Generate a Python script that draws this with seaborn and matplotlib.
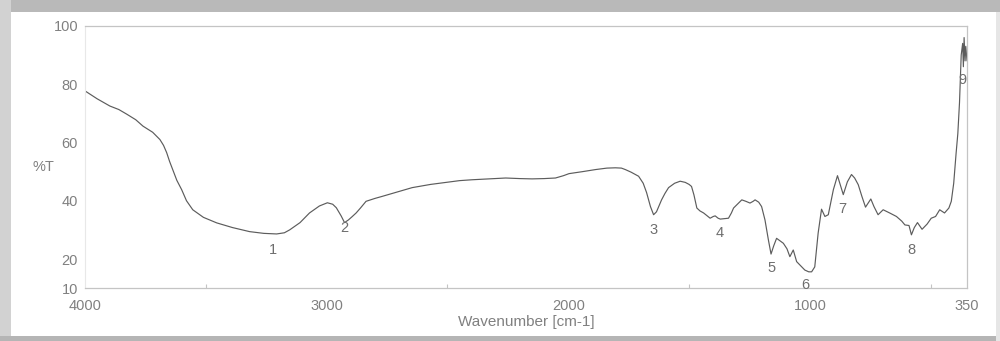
import matplotlib
matplotlib.use("Agg")
import matplotlib.pyplot as plt
from matplotlib.patches import Rectangle
import pandas as pd
import seaborn as sns

# FTIR transmission spectrum
wavenumber = [
    4000, 3950, 3897, 3860, 3827, 3790, 3760, 3720, 3690, 3675, 3662, 3650,
    3637, 3620, 3600, 3580, 3554, 3510, 3455, 3390, 3319, 3260, 3207, 3175,
    3153, 3110, 3071, 3030, 2997, 2975, 2960, 2940, 2926, 2910, 2895, 2878,
    2860, 2837, 2800, 2770, 2700, 2646, 2570, 2507, 2450, 2398, 2330, 2259,
    2200, 2150, 2100, 2053, 2020, 1997, 1940, 1887, 1840, 1805, 1780, 1764,
    1740, 1709, 1690, 1676, 1660, 1647, 1635, 1614, 1600, 1585, 1560, 1537,
    1516, 1500, 1490, 1480, 1468, 1455, 1440, 1425, 1413, 1400, 1392, 1380,
    1371, 1350, 1337, 1325, 1316, 1300, 1282, 1265, 1248, 1235, 1227, 1212,
    1200, 1186, 1172, 1161, 1150, 1138, 1125, 1110, 1095, 1083, 1069, 1055,
    1040, 1021, 1005, 993, 980, 966, 952, 938, 924, 903, 886, 862,
    845, 828, 815, 800, 785, 770, 748, 735, 718, 697, 670, 642,
    620, 607, 590, 580, 568, 555, 536, 515, 498, 480, 463, 443,
    425, 415, 405, 395, 388, 381, 374, 368, 365, 362, 358, 355, 350,
]
transmittance = [
    77.7, 75.0, 72.5, 71.3, 69.7, 67.8, 65.6, 63.5, 61.0, 59.0, 56.5, 53.5,
    50.7, 47.0, 43.8, 40.0, 36.9, 34.3, 32.4, 30.8, 29.4, 28.8, 28.6, 29.0,
    30.0, 32.5, 35.8, 38.2, 39.3, 38.8, 37.6, 34.8, 32.5, 33.4, 34.5, 35.8,
    37.5, 39.8, 40.8, 41.5, 43.2, 44.5, 45.6, 46.3, 46.9, 47.2, 47.5, 47.8,
    47.6, 47.5, 47.6, 47.8, 48.6, 49.3, 50.0, 50.7, 51.2, 51.3, 51.2, 50.7,
    49.8, 48.4, 46.0, 42.8, 38.0, 35.2, 36.2, 40.3, 42.5, 44.5, 46.0, 46.7,
    46.3, 45.6, 44.9, 42.0, 37.5, 36.5, 35.8, 34.8, 34.0, 34.6, 34.8, 34.0,
    33.7, 33.9, 34.0, 35.8, 37.5, 38.8, 40.3, 39.8, 39.2, 39.8, 40.3, 39.5,
    38.0, 33.4, 26.6, 21.7, 24.5, 27.1, 26.3, 25.4, 23.5, 20.8, 23.1, 19.1,
    17.8, 16.2, 15.6, 15.6, 17.3, 28.9, 37.1, 34.6, 35.2, 43.8, 48.6, 42.1,
    46.5, 49.0, 47.8, 45.5, 41.5, 37.8, 40.6, 38.0, 35.2, 36.9, 35.8, 34.6,
    33.0, 31.7, 31.5, 28.3, 30.8, 32.5, 30.2, 32.0, 34.0, 34.6, 36.9, 35.8,
    37.5, 39.8, 46.0, 56.4, 63.0, 73.7, 90.0, 94.0, 86.0, 96.0, 88.0, 93.0, 88.0,
]

# numbered band labels
peak_labels = ["1", "2", "3", "4", "5", "6", "7", "8", "9"]
peak_x = [3224, 2926, 1647, 1374, 1159, 1021, 866, 582, 367]
peak_y = [23.1, 30.7, 30.0, 29.0, 17.0, 11.2, 37.2, 23.1, 81.5]

x_ticks = [4000, 3000, 2000, 1000, 350]
x_minor = [3500, 2500, 1500, 500]
y_ticks = [10, 20, 40, 60, 80, 100]

sns.set_style("white")
plt.rcParams["font.family"] = ["Liberation Sans", "DejaVu Sans"]

text_c = "#808080"
spine_c = "#c4c4c4"

fig = plt.figure(figsize=(10, 3.41), dpi=100, facecolor="white")

# picture frame border
fig.patches.append(Rectangle((0, 0.965), 1, 0.035, transform=fig.transFigure,
                             facecolor="#b9b9b9", edgecolor="none", zorder=0))
fig.patches.append(Rectangle((0, 0), 0.011, 1, transform=fig.transFigure,
                             facecolor="#d2d2d2", edgecolor="none", zorder=0))
fig.patches.append(Rectangle((0, 0), 1, 0.0147, transform=fig.transFigure,
                             facecolor="#b5b5b5", edgecolor="none", zorder=0))
fig.patches.append(Rectangle((0.996, 0), 0.004, 0.965, transform=fig.transFigure,
                             facecolor="#e6e6e6", edgecolor="none", zorder=0))

ax = fig.add_axes([0.085, 0.155, 0.882, 0.769])
df = pd.DataFrame({"Wavenumber": wavenumber, "T": transmittance})
sns.lineplot(data=df, x="Wavenumber", y="T", ax=ax, color="#5c5c5c",
             linewidth=0.85, sort=False, estimator=None)

ax.set_xlim(4000, 350)
ax.set_ylim(10, 100)
ax.set_xticks(x_ticks)
ax.set_xticklabels([str(v) for v in x_ticks])
ax.set_xticks(x_minor, minor=True)
ax.set_yticks(y_ticks)
ax.set_yticklabels([str(v) for v in y_ticks])
ax.tick_params(axis="both", which="major", labelsize=10.5, colors=spine_c,
               labelcolor=text_c, length=3, width=0.8, direction="in")
ax.tick_params(axis="x", which="major", pad=8)
ax.tick_params(axis="y", which="major", pad=5)
ax.tick_params(axis="x", which="minor", length=3, width=0.8, color=spine_c,
               direction="in", bottom=True)

for side in ["top", "right", "bottom"]:
    ax.spines[side].set_color(spine_c)
    ax.spines[side].set_linewidth(0.9)
ax.spines["left"].set_color("#e8e8e8")
ax.spines["left"].set_linewidth(0.8)

ax.set_xlabel("Wavenumber [cm-1]", fontsize=11, color=text_c, labelpad=1)
ax.set_ylabel("%T", fontsize=10.5, color=text_c, rotation=0, va="center",
              ha="center")
ax.yaxis.set_label_coords(-0.047, 0.463)

for lab, px, py in zip(peak_labels, peak_x, peak_y):
    ax.text(px, py, lab, fontsize=10.5, color="#6e6e6e", ha="center", va="center")

fig.savefig("out.png", dpi=100, facecolor=fig.get_facecolor())
